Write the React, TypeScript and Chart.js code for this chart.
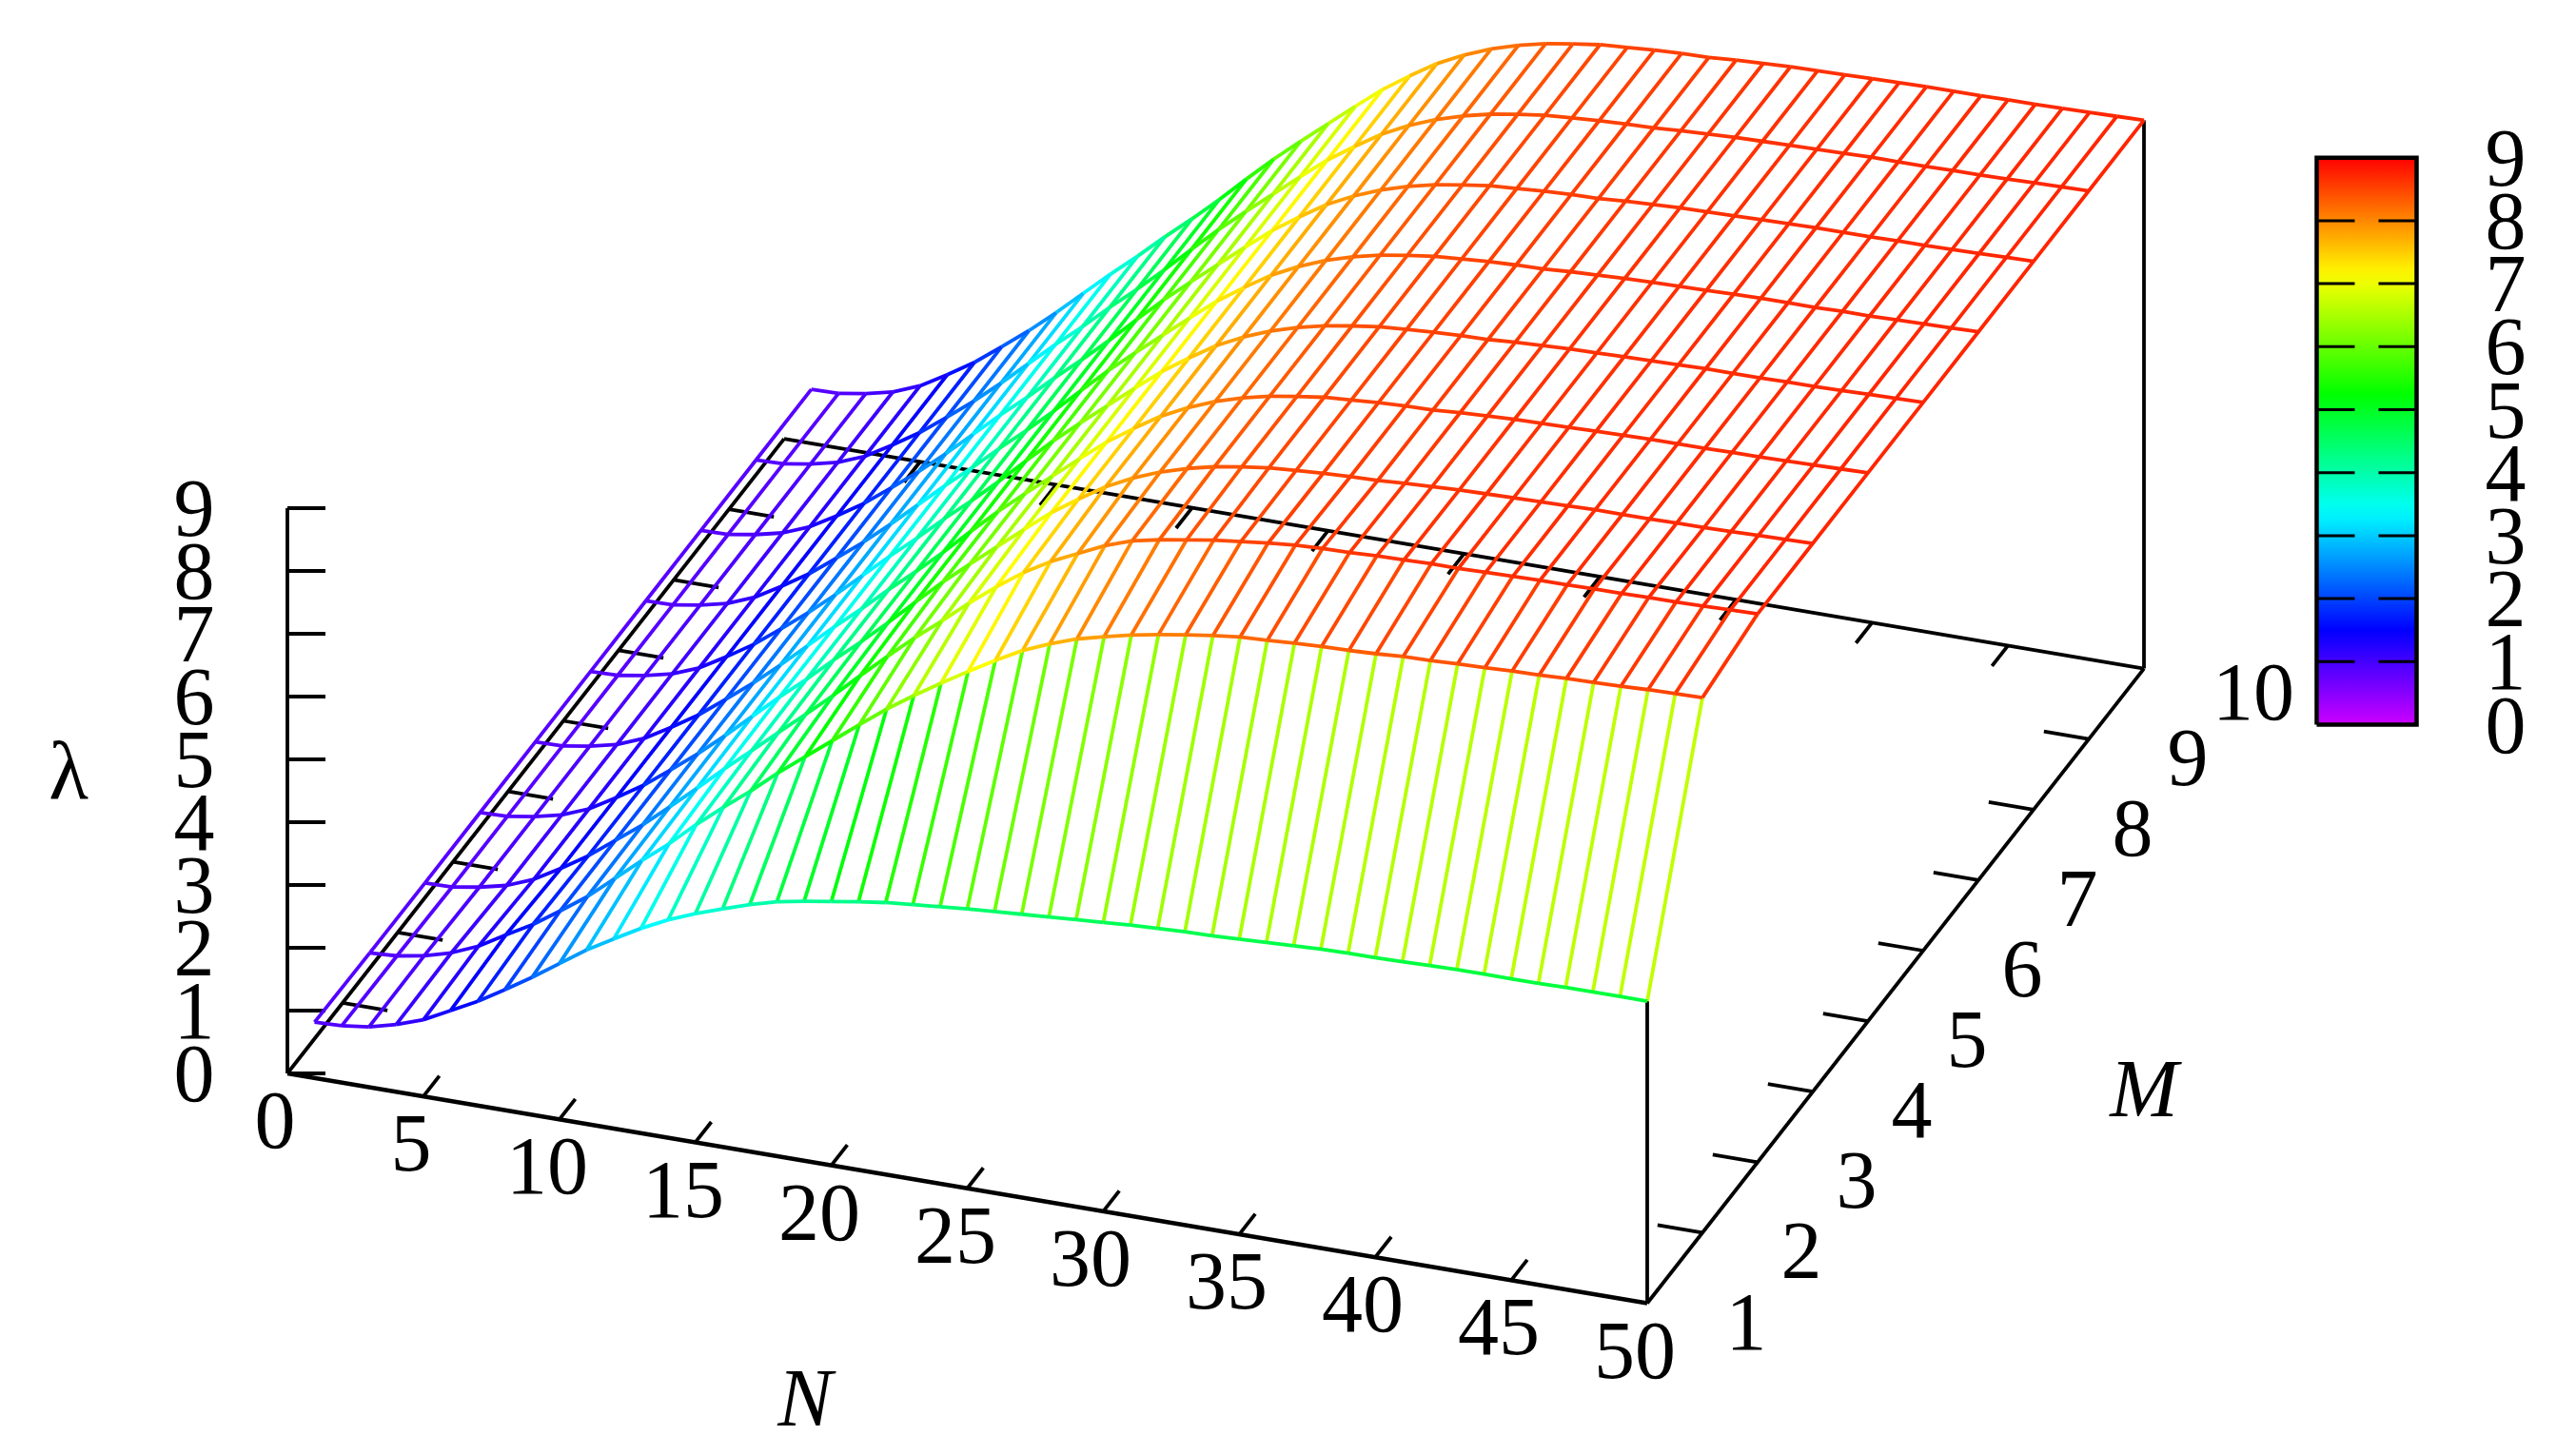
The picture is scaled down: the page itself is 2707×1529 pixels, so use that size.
import { useEffect, useRef } from "react"
import Chart from "chart.js/auto"

const WIDTH = 2707
const HEIGHT = 1529

const nValues = [
  1, 2, 3, 4, 5, 6, 7, 8, 9, 10, 11, 12, 13, 14, 15, 16, 17, 18, 19, 20, 21, 22, 23, 24, 25,
  26, 27, 28, 29, 30, 31, 32, 33, 34, 35, 36, 37, 38, 39, 40, 41, 42, 43, 44, 45, 46, 47, 48, 49, 50,
]
const mValues = [1, 2, 3, 4, 5, 6, 7, 8, 9, 10]

const nTicks = [0, 5, 10, 15, 20, 25, 30, 35, 40, 45, 50]
const mTicks = [1, 2, 3, 4, 5, 6, 7, 8, 9, 10]
const lambdaTicks = [0, 1, 2, 3, 4, 5, 6, 7, 8, 9]

// lambda along N for each M
const lambdaM1 = [
  0.89, 0.905, 0.96, 1.07, 1.22, 1.44, 1.66, 1.92, 2.19, 2.48, 2.77, 3.02, 3.26, 3.47, 3.64, 3.79, 3.93, 4.05, 4.13, 4.2,
  4.27, 4.33, 4.37, 4.41, 4.45, 4.48, 4.51, 4.54, 4.57, 4.6, 4.63, 4.65, 4.67, 4.68, 4.7, 4.72, 4.74, 4.76, 4.77, 4.77,
  4.78, 4.79, 4.8, 4.8, 4.8, 4.8, 4.81, 4.81, 4.81, 4.81,
]
const lambdaM2 = [
  0.87, 0.895, 0.97, 1.09, 1.27, 1.52, 1.76, 2.05, 2.35, 2.71, 3.07, 3.41, 3.79, 4.14, 4.47, 4.83, 5.16, 5.49, 5.82, 6.14,
  6.43, 6.7, 6.96, 7.21, 7.44, 7.62, 7.77, 7.88, 7.98, 8.06, 8.13, 8.19, 8.24, 8.26, 8.29, 8.31, 8.32, 8.34, 8.37, 8.38,
  8.4, 8.41, 8.43, 8.44, 8.46, 8.47, 8.48, 8.5, 8.51, 8.52,
]
const lambdaM3 = [
  0.86, 0.87, 0.94, 1.04, 1.21, 1.46, 1.73, 2.05, 2.37, 2.73, 3.1, 3.48, 3.84, 4.21, 4.57, 4.94, 5.33, 5.71, 6.08, 6.42,
  6.78, 7.11, 7.41, 7.66, 7.86, 8.06, 8.21, 8.3, 8.37, 8.44, 8.49, 8.54, 8.58, 8.6, 8.61, 8.63, 8.64, 8.65, 8.65, 8.66,
  8.67, 8.68, 8.68, 8.69, 8.69, 8.7, 8.7, 8.71, 8.72, 8.73,
]
// M = 4..10 sit on top of each other within reading error
const lambdaUpper = [
  0.86, 0.87, 0.94, 1.04, 1.21, 1.46, 1.73, 2.05, 2.38, 2.74, 3.12, 3.5, 3.86, 4.24, 4.6, 4.98, 5.38, 5.77, 6.13, 6.48,
  6.83, 7.17, 7.46, 7.73, 7.94, 8.11, 8.24, 8.34, 8.41, 8.47, 8.5, 8.53, 8.55, 8.56, 8.59, 8.61, 8.63, 8.64, 8.65, 8.66,
  8.67, 8.68, 8.68, 8.68, 8.69, 8.69, 8.7, 8.71, 8.72, 8.73,
]
const lambdaRows = [
  lambdaM1, lambdaM2, lambdaM3, lambdaUpper, lambdaUpper, lambdaUpper, lambdaUpper, lambdaUpper, lambdaUpper, lambdaUpper,
]

// view of the 3d box, in canvas pixels
const ORIGIN_X = 302
const ORIGIN_Y = 1128
const PER_N_X = 28.58
const PER_N_Y = 4.83
const PER_M_X = 58
const PER_M_Y = -74.1
const PER_LAMBDA_Y = -66

const BAR_LEFT = 2434.5
const BAR_RIGHT = 2539.5
const BAR_BOTTOM = 761.5
const BAR_PER_LAMBDA = -66.2

const FONT_SIZE = 86
const BLACK = "#000000"

const project = (n: number, m: number, l: number) => ({
  x: ORIGIN_X + PER_N_X * n + PER_M_X * (m - 1),
  y: ORIGIN_Y + PER_N_Y * n + PER_M_Y * (m - 1) + PER_LAMBDA_Y * l,
  l,
})

const paletteColor = (l: number) => `hsl(${288 * (1 - l / 9)}, 100%, 50%)`

const blackLine = (points: { x: number; y: number }[], width = 3.8) => ({
  data: points,
  borderColor: BLACK,
  borderWidth: width,
  pointRadius: 0,
  showLine: true,
})

const surfaceLine = (points: { x: number; y: number; l: number }[]) => ({
  data: points,
  borderWidth: 3.8,
  pointRadius: 0,
  showLine: true,
  borderJoinStyle: "round",
  segment: {
    borderColor: (ctx: any) => paletteColor((points[ctx.p0DataIndex].l + points[ctx.p1DataIndex].l) / 2),
  },
})

const buildDatasets = () => {
  const sets: any[] = []

  lambdaRows.forEach((row, r) => {
    sets.push(surfaceLine(nValues.map((n, i) => project(n, mValues[r], row[i]))))
  })
  nValues.forEach((n, i) => {
    sets.push(surfaceLine(mValues.map((m, r) => project(n, m, lambdaRows[r][i]))))
  })

  // box
  sets.push(blackLine([project(0, 1, 0), project(50, 1, 0)], 4.5))
  sets.push(blackLine([project(50, 1, 0), project(50, 10, 0)]))
  sets.push(blackLine([project(0, 10, 0), project(50, 10, 0)]))
  sets.push(blackLine([project(0, 1, 0), project(0, 10, 0)]))
  sets.push(blackLine([project(0, 1, 0), project(0, 1, 9)]))
  sets.push(blackLine([project(50, 1, 0), project(50, 1, lambdaM1[49])]))
  sets.push(blackLine([project(50, 10, 0), project(50, 10, lambdaUpper[49])]))

  // ticks
  lambdaTicks.forEach((l) => {
    const p = project(0, 1, l)
    sets.push(blackLine([p, { x: p.x + 40, y: p.y }]))
  })
  nTicks.slice(1, -1).forEach((n) => {
    sets.push(blackLine([project(n, 1, 0), project(n, 1.29, 0)]))
    sets.push(blackLine([project(n, 10, 0), project(n, 9.71, 0)]))
  })
  mTicks.slice(1, -1).forEach((m) => {
    sets.push(blackLine([project(0, m, 0), project(1.65, m, 0)]))
    sets.push(blackLine([project(50, m, 0), project(48.35, m, 0)]))
  })

  // colour bar frame and ticks
  const top = BAR_BOTTOM + 9 * BAR_PER_LAMBDA
  sets.push(
    blackLine(
      [
        { x: BAR_LEFT, y: BAR_BOTTOM },
        { x: BAR_RIGHT, y: BAR_BOTTOM },
        { x: BAR_RIGHT, y: top },
        { x: BAR_LEFT, y: top },
        { x: BAR_LEFT, y: BAR_BOTTOM },
      ],
      4.5
    )
  )
  lambdaTicks.slice(1, -1).forEach((l) => {
    const y = BAR_BOTTOM + l * BAR_PER_LAMBDA
    sets.push(blackLine([{ x: BAR_LEFT, y }, { x: BAR_LEFT + 40, y }], 3))
    sets.push(blackLine([{ x: BAR_RIGHT - 40, y }, { x: BAR_RIGHT, y }], 3))
  })
  return sets
}

const colorBarPlugin = {
  id: "colorBar",
  beforeDatasetsDraw(chart: any) {
    const { ctx, scales } = chart
    const x0 = scales.x.getPixelForValue(BAR_LEFT)
    const x1 = scales.x.getPixelForValue(BAR_RIGHT)
    const y0 = scales.y.getPixelForValue(BAR_BOTTOM)
    const y1 = scales.y.getPixelForValue(BAR_BOTTOM + 9 * BAR_PER_LAMBDA)
    const gradient = ctx.createLinearGradient(0, y0, 0, y1)
    for (let i = 0; i <= 36; i++) {
      gradient.addColorStop(i / 36, paletteColor(i / 4))
    }
    ctx.save()
    ctx.fillStyle = gradient
    ctx.fillRect(x0, y1, x1 - x0, y0 - y1)
    ctx.restore()
  },
}

// labels go down before the lines, nothing overlaps them anyway
const labelPlugin = {
  id: "labels",
  beforeDraw(chart: any) {
    const { ctx, scales } = chart
    const put = (text: string, x: number, y: number, italic = false) => {
      ctx.font = `${italic ? "italic " : ""}${FONT_SIZE}px "Liberation Serif"`
      // y is the middle of the digits, not of the em box
      const px = Math.round(scales.x.getPixelForValue(x))
      const py = Math.round(scales.y.getPixelForValue(y + FONT_SIZE * 0.338))
      ctx.fillText(text, px, py)
    }
    ctx.save()
    ctx.fillStyle = BLACK
    ctx.textAlign = "center"
    ctx.textBaseline = "alphabetic"

    lambdaTicks.forEach((l) => {
      const p = project(0, 1, l)
      put(String(l), 204, p.y)
      put(String(l), 2633, BAR_BOTTOM + l * BAR_PER_LAMBDA)
    })
    nTicks.forEach((n) => {
      const p = project(n, 1, 0)
      put(String(n), p.x - 13, p.y + 49)
    })
    mTicks.forEach((m) => {
      const p = project(50, m, 0)
      put(String(m), p.x + (m === 10 ? 115 : 104), p.y + (m === 10 ? 24 : 19))
    })
    put("λ", 72, 810)
    put("N", 846, 1469, true)
    put("M", 2253, 1144, true)
    ctx.restore()
  },
}

export default function App() {
  const chartRef = useRef<HTMLCanvasElement>(null)

  useEffect(() => {
    if (!chartRef.current) return
    // software canvas, the accelerated one blurs the big glyphs
    chartRef.current.getContext("2d", { willReadFrequently: true })
    const chart = new Chart(chartRef.current, {
      type: "scatter",
      data: { datasets: buildDatasets() },
      plugins: [colorBarPlugin, labelPlugin],
      options: {
        animation: false,
        responsive: false,
        devicePixelRatio: 1,
        layout: { padding: 0 },
        plugins: { legend: { display: false }, tooltip: { enabled: false } },
        scales: {
          x: { type: "linear", display: false, min: 0, max: WIDTH },
          y: { type: "linear", display: false, min: 0, max: HEIGHT, reverse: true },
        },
      },
    } as any)
    return () => chart.destroy()
  }, [])

  return (
    <canvas
      ref={chartRef}
      width={WIDTH}
      height={HEIGHT}
      style={{ position: "absolute", left: 0, top: 0, display: "block" }}
      aria-label="Surface of lambda over N and M"
      role="img"
    ></canvas>
  )
}
